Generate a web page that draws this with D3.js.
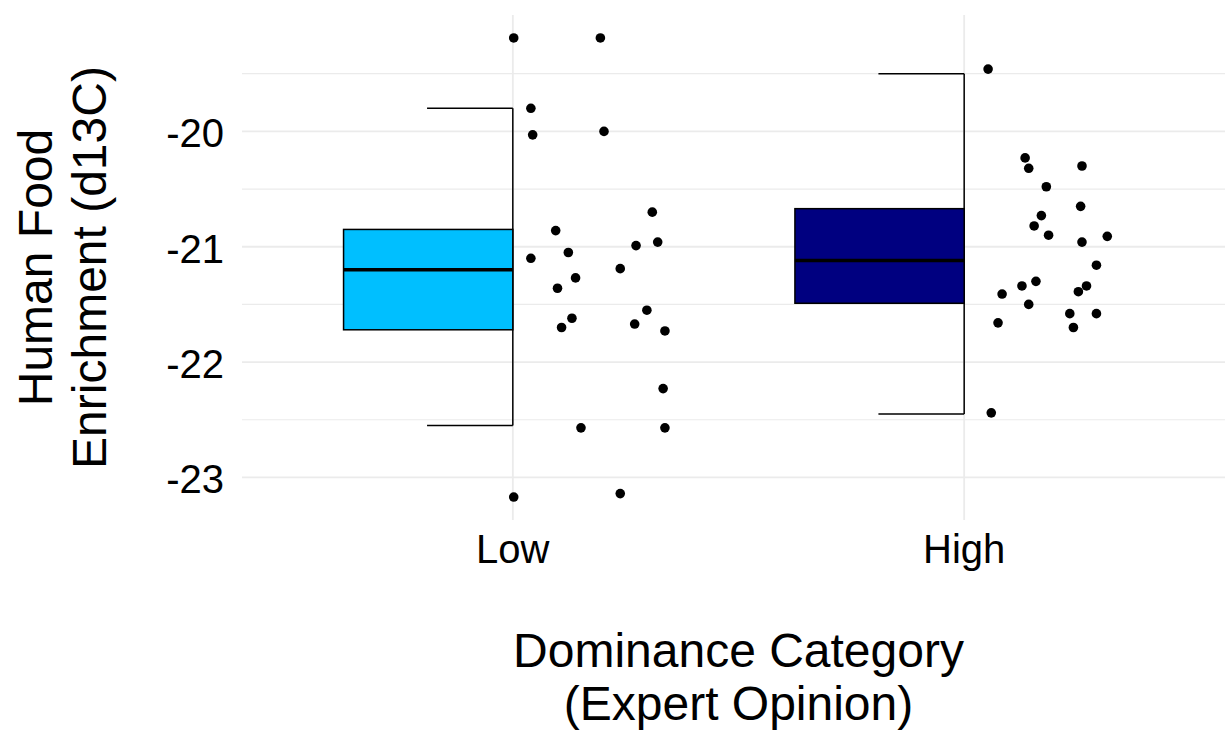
<!DOCTYPE html>
<html>
<head>
<meta charset="utf-8">
<script src="https://cdn.jsdelivr.net/npm/d3@7"></script>
<style>
  body { margin: 0; background: #fff; }
  text { font-family: "Liberation Sans", Arial, sans-serif; fill: #000; }
</style>
</head>
<body>
<div id="wrapper"></div>
<script>
// categories on the x axis
const categories = ['Low', 'High']
const boxColors = ['#00bfff', '#000080']

// points (value, horizontal jitter in category units)
const lowValues = [-19.19, -19.19, -19.80, -20.03, -20.00, -20.70, -20.86, -20.96, -20.99, -21.05, -21.10, -21.19,
  -21.27, -21.36, -21.55, -21.62, -21.67, -21.70, -21.73, -22.23, -22.57, -22.57, -23.17, -23.14]
const lowJitter = [0.002, 0.194, 0.040, 0.044, 0.202, 0.309, 0.095, 0.321, 0.273, 0.123, 0.040, 0.238,
  0.139, 0.099, 0.297, 0.131, 0.270, 0.108, 0.337, 0.333, 0.151, 0.337, 0.002, 0.238]

const highValues = [-19.46, -20.23, -20.32, -20.30, -20.48, -20.65, -20.73, -20.82, -20.90, -20.96, -20.91, -21.16,
  -21.30, -21.34, -21.34, -21.39, -21.41, -21.50, -21.58, -21.58, -21.66, -21.70, -22.44]
const highJitter = [0.053, 0.135, 0.143, 0.261, 0.182, 0.258, 0.171, 0.155, 0.187, 0.261, 0.317, 0.293,
  0.159, 0.128, 0.271, 0.253, 0.084, 0.143, 0.234, 0.293, 0.075, 0.242, 0.060]

// box summaries, one entry per category
const whiskerLow = [-22.55, -22.45]
const q1 = [-21.72, -21.49]
const medians = [-21.20, -21.12]
const q3 = [-20.85, -20.67]
const whiskerHigh = [-19.80, -19.50]

const yTicks = [-20, -21, -22, -23]
const yMinorTicks = [-19.5, -20.5, -21.5, -22.5]

async function drawChart() {

  const points = [
    ...lowValues.map((v, i) => ({cat: 0, value: v, jitter: lowJitter[i]})),
    ...highValues.map((v, i) => ({cat: 1, value: v, jitter: highJitter[i]})),
  ]

  let dimensions = {
    width: 1225,
    height: 733,
    margin: {
      top: 15,
      right: -10,
      bottom: 213,
      left: 242
    }
  }
  dimensions.boundedWidth = dimensions.width - dimensions.margin.left - dimensions.margin.right
  dimensions.boundedHeight = dimensions.height - dimensions.margin.top - dimensions.margin.bottom

  const wrapper = d3.select('#wrapper')
    .append('svg')
      .attr('width', dimensions.width)
      .attr('height', dimensions.height)

  const bounds = wrapper.append('g')
    .attr('transform', `translate(${dimensions.margin.left}, ${dimensions.margin.top})`)

  // scales (ggplot style 5% expansion on y, 0.6 on the discrete x)
  const [yMin, yMax] = d3.extent(points, d => d.value)
  const pad = (yMax - yMin) * 0.05
  const yScale = d3.scaleLinear()
    .domain([yMin - pad, yMax + pad])
    .range([dimensions.boundedHeight, 0])

  const xScale = d3.scaleLinear()
    .domain([0.4, categories.length + 0.6])
    .range([0, dimensions.boundedWidth])
  const xPos = i => xScale(i + 1)
  const unit = xScale(1) - xScale(0)

  // gridlines
  const grid = bounds.append('g')
  grid.selectAll('.minor')
    .data(yMinorTicks)
    .join('line')
      .attr('x1', 0).attr('x2', dimensions.boundedWidth)
      .attr('y1', d => yScale(d)).attr('y2', d => yScale(d))
      .attr('stroke', '#ebebeb').attr('stroke-width', 1.2)
  grid.selectAll('.major')
    .data(yTicks)
    .join('line')
      .attr('x1', 0).attr('x2', dimensions.boundedWidth)
      .attr('y1', d => yScale(d)).attr('y2', d => yScale(d))
      .attr('stroke', '#ebebeb').attr('stroke-width', 1.8)
  grid.selectAll('.vmajor')
    .data(categories)
    .join('line')
      .attr('x1', (d, i) => xPos(i)).attr('x2', (d, i) => xPos(i))
      .attr('y1', 0).attr('y2', dimensions.boundedHeight)
      .attr('stroke', '#ebebeb').attr('stroke-width', 1.8)

  // half boxplots, left of each category
  const boxes = bounds.selectAll('.box')
    .data(categories)
    .join('g')

  boxes.append('line')
    .attr('x1', (d, i) => xPos(i)).attr('x2', (d, i) => xPos(i))
    .attr('y1', (d, i) => yScale(whiskerHigh[i]))
    .attr('y2', (d, i) => yScale(whiskerLow[i]))
    .attr('stroke', '#000').attr('stroke-width', 1.5)
  boxes.append('line')
    .attr('x1', (d, i) => xPos(i) - unit * 0.19).attr('x2', (d, i) => xPos(i))
    .attr('y1', (d, i) => yScale(whiskerHigh[i])).attr('y2', (d, i) => yScale(whiskerHigh[i]))
    .attr('stroke', '#000').attr('stroke-width', 1.5)
  boxes.append('line')
    .attr('x1', (d, i) => xPos(i) - unit * 0.19).attr('x2', (d, i) => xPos(i))
    .attr('y1', (d, i) => yScale(whiskerLow[i])).attr('y2', (d, i) => yScale(whiskerLow[i]))
    .attr('stroke', '#000').attr('stroke-width', 1.5)
  boxes.append('rect')
    .attr('x', (d, i) => xPos(i) - unit * 0.375)
    .attr('width', unit * 0.375)
    .attr('y', (d, i) => yScale(q3[i]))
    .attr('height', (d, i) => yScale(q1[i]) - yScale(q3[i]))
    .attr('fill', (d, i) => boxColors[i])
    .attr('stroke', '#000').attr('stroke-width', 1.5)
  boxes.append('line')
    .attr('x1', (d, i) => xPos(i) - unit * 0.375).attr('x2', (d, i) => xPos(i))
    .attr('y1', (d, i) => yScale(medians[i])).attr('y2', (d, i) => yScale(medians[i]))
    .attr('stroke', '#000').attr('stroke-width', 3.5)

  // jittered points, right of each category
  bounds.selectAll('circle')
    .data(points)
    .join('circle')
      .attr('cx', d => xPos(d.cat) + d.jitter * unit)
      .attr('cy', d => yScale(d.value))
      .attr('r', 4.8)
      .attr('fill', '#000')

  // axes
  const yAxis = bounds.append('g')
  yAxis.selectAll('text')
    .data(yTicks)
    .join('text')
      .attr('x', -18)
      .attr('y', d => yScale(d) + 16)
      .attr('text-anchor', 'end')
      .style('font-size', '40px')
      .text(d => d3.format('d')(d).replace('\u2212', '-'))

  const xAxis = bounds.append('g')
  xAxis.selectAll('text')
    .data(categories)
    .join('text')
      .attr('x', (d, i) => xPos(i))
      .attr('y', dimensions.boundedHeight + 43)
      .attr('text-anchor', 'middle')
      .style('font-size', '40px')
      .text(d => d)

  // axis titles
  const xTitle = wrapper.append('text')
    .attr('text-anchor', 'middle')
    .style('font-size', '48px')
  xTitle.append('tspan')
    .attr('x', dimensions.margin.left + dimensions.boundedWidth / 2)
    .attr('y', 667)
    .text('Dominance Category')
  xTitle.append('tspan')
    .attr('x', dimensions.margin.left + dimensions.boundedWidth / 2)
    .attr('y', 720)
    .text('(Expert Opinion)')

  const yMid = dimensions.margin.top + dimensions.boundedHeight / 2
  const yTitle = wrapper.append('text')
    .attr('text-anchor', 'middle')
    .attr('transform', `translate(0, ${yMid}) rotate(-90)`)
    .style('font-size', '48px')
  yTitle.append('tspan')
    .attr('x', 0).attr('y', 52)
    .text('Human Food')
  yTitle.append('tspan')
    .attr('x', 0).attr('y', 106)
    .text('Enrichment (d13C)')
}

drawChart()
</script>
</body>
</html>
